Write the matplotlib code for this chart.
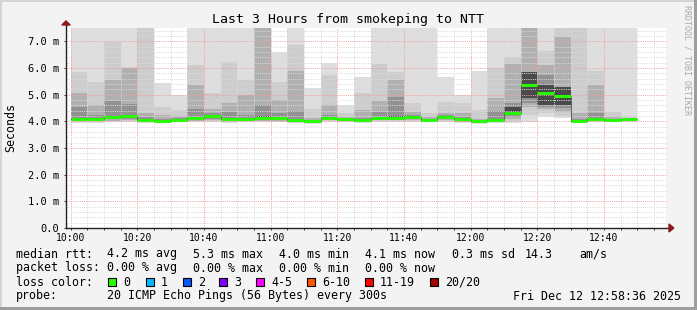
import numpy as np
import matplotlib
matplotlib.use('Agg')
import matplotlib.pyplot as plt
from matplotlib.patches import Rectangle, Polygon
from matplotlib.ticker import MultipleLocator, FuncFormatter

# 5 minute rounds, minutes after 10:00
bar_start = list(range(0, 170, 5))

# smoke percentiles of the 20 pings per round (ms)
rtt_max = [7.8, 7.8, 7.8, 7.8, 7.8, 5.42, 4.98, 7.8, 7.8, 7.8, 7.8, 7.8, 6.60, 7.8, 5.26, 6.19, 4.61,
           5.67, 7.8, 7.8, 7.8, 7.8, 5.67, 5.0, 5.89, 7.8, 7.8, 7.8, 7.8, 7.8, 7.8, 7.8, 7.8, 7.8]
rtt_p90 = [5.86, 5.48, 6.98, 6.04, 7.8, 4.55, 4.42, 6.10, 5.08, 6.22, 5.55, 7.8, 5.48, 6.85, 4.48, 5.74, 4.30,
           5.08, 6.16, 5.86, 4.67, 4.30, 4.73, 4.69, 4.42, 5.99, 6.41, 7.8, 6.63, 7.8, 7.8, 5.89, 4.36, 4.20]
rtt_p75 = [5.08, 4.61, 5.55, 6.00, 4.30, 4.25, 4.20, 5.36, 4.48, 4.67, 4.98, 7.8, 4.80, 5.89, 4.12, 4.61, 4.15,
           4.42, 4.76, 5.55, 4.35, 4.15, 4.30, 4.30, 4.10, 4.86, 6.16, 7.8, 6.10, 7.17, 4.30, 5.36, 4.15, 4.12]
rtt_p60 = [4.55, 4.25, 4.75, 4.65, 4.15, 4.10, 4.12, 4.45, 4.30, 4.35, 4.25, 4.60, 4.30, 4.40, 4.05, 4.25, 4.10,
           4.12, 4.35, 4.90, 4.22, 4.10, 4.22, 4.15, 4.05, 4.40, 4.67, 5.86, 5.74, 5.30, 4.10, 4.30, 4.10, 4.10]
rtt_p55 = [4.14, 4.13, 4.20, 4.25, 4.09, 4.05, 4.08, 4.15, 4.24, 4.13, 4.13, 4.20, 4.15, 4.09, 4.02, 4.18, 4.09,
           4.08, 4.18, 4.20, 4.19, 4.08, 4.20, 4.12, 4.02, 4.09, 4.55, 5.84, 5.36, 5.30, 4.05, 4.13, 4.08, 4.10]
rtt_med = [4.09, 4.09, 4.15, 4.19, 4.06, 4.02, 4.06, 4.11, 4.21, 4.09, 4.09, 4.14, 4.11, 4.05, 4.00, 4.14, 4.07,
           4.05, 4.14, 4.14, 4.16, 4.06, 4.18, 4.09, 4.00, 4.05, 4.31, 5.36, 5.05, 4.96, 4.02, 4.09, 4.06, 4.09]
rtt_p45 = [4.06, 4.06, 4.10, 4.14, 4.03, 4.00, 4.04, 4.08, 4.12, 4.06, 4.06, 4.10, 4.08, 4.02, 3.98, 4.10, 4.05,
           4.03, 4.10, 4.10, 4.12, 4.04, 4.14, 4.03, 3.98, 4.02, 4.22, 4.86, 4.61, 4.61, 4.00, 4.06, 4.04, 4.06]
rtt_p40 = [4.04, 4.04, 4.07, 4.10, 4.01, 3.99, 4.02, 4.06, 4.08, 4.04, 4.04, 4.07, 4.05, 4.00, 3.97, 4.07, 4.03,
           4.01, 4.07, 4.07, 4.09, 4.02, 4.10, 4.00, 3.97, 4.00, 4.18, 4.70, 4.55, 4.50, 3.98, 4.04, 4.02, 4.04]
rtt_p25 = [4.01, 4.01, 4.03, 4.06, 3.99, 3.97, 4.00, 4.03, 4.04, 4.01, 4.01, 4.03, 4.02, 3.98, 3.95, 4.04, 4.01,
           3.99, 4.04, 4.04, 4.05, 4.00, 4.06, 3.98, 3.95, 3.98, 4.10, 4.55, 4.48, 4.36, 3.96, 4.01, 4.00, 4.01]
rtt_p10 = [3.98, 3.98, 4.00, 4.02, 3.97, 3.95, 3.98, 4.00, 4.01, 3.98, 3.98, 4.00, 3.99, 3.95, 3.93, 4.01, 3.99,
           3.97, 4.01, 4.01, 4.02, 3.98, 4.02, 3.96, 3.93, 3.96, 4.02, 4.23, 4.30, 4.20, 3.94, 3.98, 3.98, 3.98]
rtt_min = [3.95, 3.95, 3.97, 3.98, 3.95, 3.93, 3.96, 3.97, 3.98, 3.95, 3.96, 3.97, 3.96, 3.92, 3.91, 3.98, 3.97,
           3.95, 3.98, 3.98, 3.99, 3.96, 3.99, 3.94, 3.91, 3.94, 3.95, 3.98, 4.15, 4.11, 3.92, 3.96, 3.96, 3.96]

loss_labels = ['0', '1', '2', '3', '4-5', '6-10', '11-19', '20/20']
loss_colors = ['#26ff00', '#00b8ff', '#0059ff', '#7e00ff', '#ff00ff', '#ff5500', '#ff0000', '#a10000']

W, H = 697, 310
MONO = 'DejaVu Sans Mono'
plt.rcParams['font.family'] = MONO

fig = plt.figure(figsize=(W / 100, H / 100), dpi=100, facecolor='#f3f3f3')
ax = fig.add_axes([66 / W, 1 - 228 / H, 600 / W, 200 / H])
ax.set_facecolor('white')

# smoke, outer pair of pings lightest
bands = [(rtt_min, rtt_max, '#dedede'), (rtt_p10, rtt_p90, '#cdcdcd'), (rtt_p25, rtt_p75, '#b0b0b0'),
         (rtt_p40, rtt_p60, '#929292'), (rtt_p45, rtt_p55, '#4a4a4a')]
for lo, hi, c in bands:
    lo = np.array(lo)
    hi = np.array(hi)
    ax.bar(bar_start, hi - lo, bottom=lo, width=5, align='edge', color=c, linewidth=0, zorder=1)

ax.step(bar_start + [170], rtt_med + [rtt_med[-1]], where='post', color='#333333', lw=0.5, zorder=3)
ax.hlines(rtt_med, bar_start, [t + 5 for t in bar_start], color=loss_colors[0], lw=2.1, zorder=4)

ax.set_xlim(-1.4, 178.6)
ax.set_ylim(0, 7.5)
ax.xaxis.set_major_locator(MultipleLocator(20))
ax.xaxis.set_minor_locator(MultipleLocator(5))
ax.yaxis.set_major_locator(MultipleLocator(1))
ax.yaxis.set_minor_locator(MultipleLocator(0.2))
ax.xaxis.set_major_formatter(FuncFormatter(lambda m, p: f'{10 + int(m) // 60}:{int(m) % 60:02d}'))
ax.yaxis.set_major_formatter(FuncFormatter(lambda v, p: '0.0' if v == 0 else f'{v:.1f} m'))

ax.set_axisbelow(False)
ax.grid(which='minor', color='#dadada', lw=0.72, linestyle=(0, (1, 1.2)), zorder=2.5)
ax.grid(which='major', color='#f2a0a0', lw=0.72, linestyle=(0, (1, 1.2)), zorder=2.6)

ax.tick_params(axis='both', which='both', colors='#333333', width=0.7, length=1.5)
ax.tick_params(axis='x', which='major', labelsize=7, pad=2, labelcolor='black')
ax.tick_params(axis='y', which='major', labelsize=7.5, pad=3.5, labelcolor='black')
ax.tick_params(axis='y', which='minor', length=0)

for s in ['top', 'right', 'left', 'bottom']:
    ax.spines[s].set_visible(False)

# axes with arrow heads as rrdtool draws them
ax.plot([0.0, 0.0], [0, 1.03], transform=ax.transAxes, color='#222222', lw=1, clip_on=False, zorder=5)
ax.plot([0.0, 1.008], [0, 0], transform=ax.transAxes, color='#222222', lw=1, clip_on=False, zorder=5)
ax.add_patch(Polygon([[-0.007, 1.015], [0.007, 1.015], [0.0, 1.035]], closed=True, transform=ax.transAxes,
                     color='#8b1a1a', clip_on=False, zorder=6))
ax.add_patch(Polygon([[1.005, -0.02], [1.005, 0.02], [1.013, 0.0]], closed=True, transform=ax.transAxes,
                     color='#8b1a1a', clip_on=False, zorder=6))


def px(x, y):
    return x / W, 1 - y / H


fig.text(*px(348, 19), 'Last 3 Hours from smokeping to NTT', ha='center', va='center', fontsize=9.5)
fig.text(*px(11, 128), 'Seconds', rotation=90, ha='center', va='center', fontsize=8.4)
fig.text(*px(687, 5), 'RRDTOOL / TOBI OETIKER', rotation=270, ha='center', va='top', fontsize=6,
         color='#a8a8a8')

fs = 8.4
rows = [
    (254, [(16, 'median rtt:'), (107.3, '4.2 ms avg'), (193.3, '5.3 ms max'), (279.3, '4.0 ms min'),
           (365, '4.1 ms now'), (451.7, '0.3 ms sd'), (525, '14.3'), (579.3, 'am/s')]),
    (268, [(16, 'packet loss:'), (107.3, '0.00 % avg'), (193.3, '0.00 % max'), (279.3, '0.00 % min'),
           (365, '0.00 % now')]),
    (282, [(16, 'loss color:')]),
    (296, [(16, 'probe:'), (107.3, '20 ICMP Echo Pings (56 Bytes) every 300s'),
           (513.3, 'Fri Dec 12 12:58:36 2025')]),
]
for y, items in rows:
    for x, s in items:
        fig.text(*px(x, y), s, ha='left', va='center', fontsize=fs)

box_x = [108.3, 145.7, 182.7, 219.3, 256.3, 307.3, 365, 430.3]
for bx, lab, c in zip(box_x, loss_labels, loss_colors):
    fig.add_artist(Rectangle(px(bx, 286), 8 / W, 8 / H, transform=fig.transFigure,
                             facecolor=c, edgecolor='black', lw=0.8))
    fig.text(*px(bx + 15, 282), lab, ha='left', va='center', fontsize=fs)

# 3d frame
fig.add_artist(Rectangle((0, 0), 1.5 / W, 1, transform=fig.transFigure, color='#d4d4d4', lw=0))
fig.add_artist(Rectangle((0, 1 - 1.5 / H), 1, 1.5 / H, transform=fig.transFigure, color='#d4d4d4', lw=0))
fig.add_artist(Rectangle((1 - 3 / W, 0), 3 / W, 1, transform=fig.transFigure, color='#9e9e9e', lw=0))
fig.add_artist(Rectangle((0, 0), 1, 3.5 / H, transform=fig.transFigure, color='#9e9e9e', lw=0))

fig.savefig('out.png', dpi=100, facecolor=fig.get_facecolor())
